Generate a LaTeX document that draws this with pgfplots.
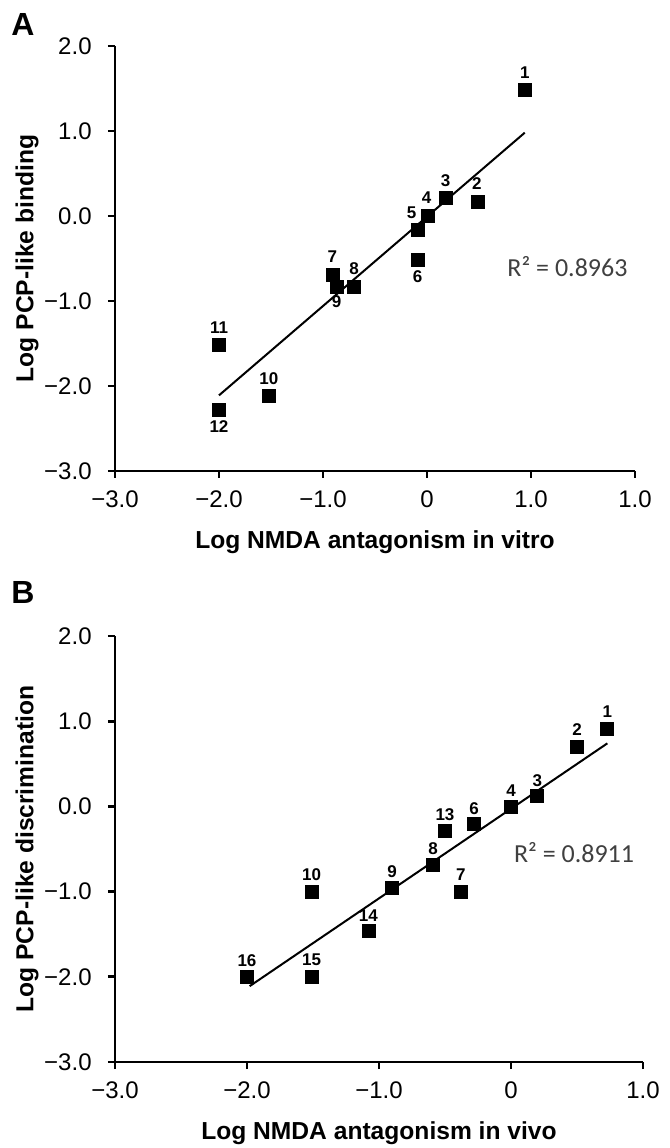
\documentclass[border=0pt]{standalone}
\usepackage{pgfplots}
\pgfplotsset{compat=1.18}
\usepackage{pgfplotstable}
\usepackage{fontspec}
\setmainfont{Liberation Sans}
\newfontfamily\calibri{Carlito}
\definecolor{rtext}{HTML}{404040}

\pgfplotstableread{
lab x y dx dy
1 0.94 1.48 0 8.8
2 0.49 0.17 -0.5 8.8
3 0.18 0.21 0 8.5
4 0.01 0.00 -0.7 9
5 -0.09 -0.16 -3 8.5
6 -0.09 -0.52 0 -8
7 -0.90 -0.69 -0.5 8.8
8 -0.70 -0.83 0 9
9 -0.87 -0.83 0 -7.5
10 -1.52 -2.12 0 9
11 -2.00 -1.52 0 9
12 -2.00 -2.28 0 -8.3
}\dataA

\pgfplotstableread{
lab x y dx dy
1 0.73 0.91 0 8.5
2 0.50 0.70 0 8.5
3 0.20 0.12 0 8
4 0.00 0.00 0 8
6 -0.28 -0.21 0 8
13 -0.50 -0.29 0 8.3
8 -0.59 -0.69 0 8.2
7 -0.38 -1.00 0 8.3
9 -0.90 -0.96 0 8.3
10 -1.51 -1.00 0 8.3
14 -1.08 -1.46 0 7.5
16 -2.00 -2.00 0 8.3
15 -1.51 -2.00 0 8.3
}\dataB

\pgfplotsset{
  panel/.style={
    scale only axis, clip=false,
    axis x line=bottom, axis y line=left,
    axis line style={-, line width=1.4pt},
    ymin=-3, ymax=2,
    ytick={-3,-2,-1,0,1,2},
    yticklabels={−3.0,−2.0,−1.0,0.0,1.0,2.0},
    tick align=outside,
    major tick length=3.5pt,
    every tick/.style={black, line width=1.4pt},
    tick label style={font=\fontsize{12}{14}\selectfont},
    yticklabel style={anchor=east, inner sep=0pt, xshift=-8pt},
    xticklabel style={anchor=north, inner sep=0pt, yshift=-6pt},
    label style={font=\bfseries\fontsize{12.3}{14}\selectfont},
    xlabel style={at={(axis description cs:0.5,0)}, anchor=center, yshift=-35.5pt},
    ylabel style={at={(axis description cs:0,0.5)}, anchor=center, yshift=44pt},
  },
  pts/.style={only marks, mark=square*, mark size=3.25pt, black,
    nodes near coords, point meta=explicit symbolic,
    visualization depends on={\thisrow{dx}\as\dx},
    visualization depends on={\thisrow{dy}\as\dy},
    every node near coord/.append style={anchor=center, inner sep=0pt,
      xshift=\dx pt, yshift=\dy pt, font=\bfseries\fontsize{8.5}{9}\selectfont}},
}

\begin{document}
\begin{tikzpicture}[x=1pt,y=1pt]
\useasboundingbox (0,0) rectangle (335,574);
\node[font=\bfseries\fontsize{16}{18}\selectfont] at (11.5,562) {A};
\node[font=\bfseries\fontsize{16}{18}\selectfont] at (11.5,278) {B};

\begin{axis}[panel,
  at={(57.5pt,338.5pt)}, anchor=south west,
  width=260pt, height=212.5pt,
  xmin=-3, xmax=2,
  xtick={-3,-2,-1,0,1,2},
  xticklabels={−3.0,−2.0,−1.0,0,1.0,1.0},
  xlabel={Log NMDA antagonism in vitro},
  ylabel={Log PCP-like binding}]
\addplot[black, line width=1pt] coordinates {(-2,-2.11) (0.94,0.98)};
\addplot[pts] table[x=x, y=y, meta=lab] {\dataA};
\node[anchor=west, text=rtext, font=\calibri\fontsize{13}{15}\selectfont, inner sep=0pt] at (axis cs:0.77,-0.60) {R² = 0.8963};
\end{axis}

\begin{axis}[panel,
  at={(57.5pt,43pt)}, anchor=south west,
  width=264pt, height=213pt,
  xmin=-3, xmax=1,
  xtick={-3,-2,-1,0,1},
  xticklabels={−3.0,−2.0,−1.0,0,1.0},
  xlabel={Log NMDA antagonism in vivo},
  ylabel={Log PCP-like discrimination}]
\addplot[black, line width=1pt] coordinates {(-1.98,-2.11) (0.73,0.74)};
\addplot[pts] table[x=x, y=y, meta=lab] {\dataB};
\node[anchor=west, text=rtext, font=\calibri\fontsize{13}{15}\selectfont, inner sep=0pt] at (axis cs:0.02,-0.54) {R² = 0.8911};
\end{axis}
\end{tikzpicture}
\end{document}
